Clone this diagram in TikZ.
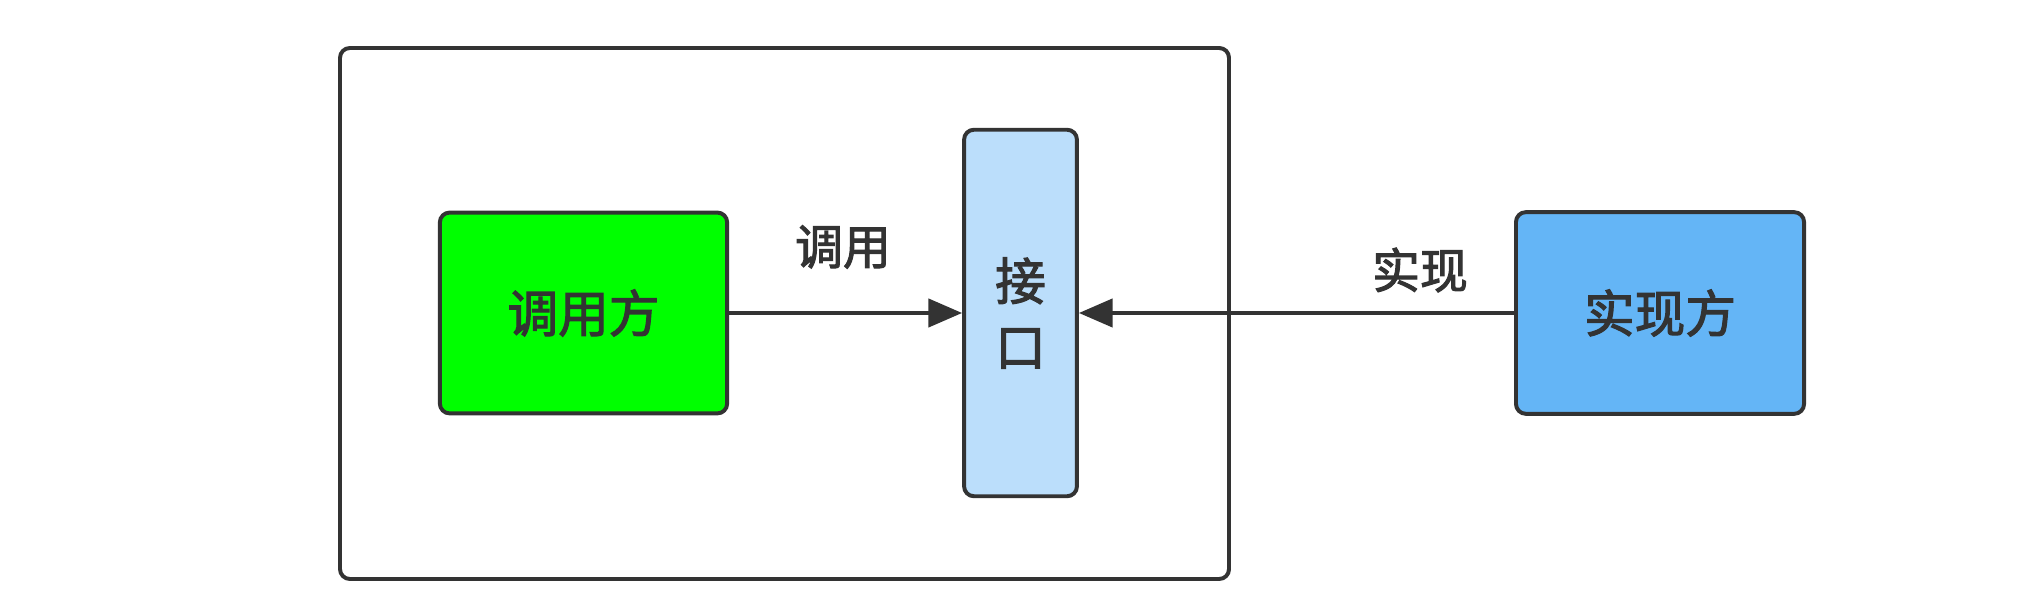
\documentclass[tikz,border=0pt]{standalone}
\usepackage{fontspec}
\setmainfont{Noto Sans CJK SC}
\newfontfamily\cjkmed[FakeBold=2.2]{Noto Sans CJK SC}
\usetikzlibrary{arrows.meta}
\definecolor{inkgray}{HTML}{333333}
\definecolor{callgreen}{HTML}{00FF00}
\definecolor{ifaceblue}{HTML}{BBDEFB}
\definecolor{implblue}{HTML}{64B5F6}

\begin{document}
\begin{tikzpicture}[x=0.0125cm,y=-0.0125cm,>={Triangle[length=12pt,width=10pt]},
  box/.style={draw=inkgray,line width=1.4pt,rounded corners=3.5pt,text=inkgray,
    font=\fontsize{18}{23.4}\selectfont\cjkmed,inner sep=0pt,align=center},
  lbl/.style={text=inkgray,font=\fontsize{17}{20}\selectfont\cjkmed}]
  \useasboundingbox[fill=white] (0,0) rectangle (2028,606);
  % frame round the caller and the interface
  \draw[inkgray,line width=1.4pt,rounded corners=3.5pt] (340,48) rectangle (1229,579);
  % the three parties
  \node[box,fill=callgreen,minimum width=3.59cm,minimum height=2.51cm] (caller) at (583.5,313) {调用方};
  \node[box,fill=ifaceblue,minimum width=1.41cm,minimum height=4.58cm] (iface) at (1020.5,313) {接\\口};
  \node[box,fill=implblue,minimum width=3.6cm,minimum height=2.52cm] (impl) at (1660,313) {实现方};
  % calls and implements
  \draw[->,inkgray,line width=1.4pt] (caller) -- (iface);
  \node[lbl] (calllbl) at (843,247) {调用};
  \draw[->,inkgray,line width=1.4pt] (impl) -- (iface);
  \node[lbl] (impllbl) at (1420,270) {实现};
\end{tikzpicture}
\end{document}
